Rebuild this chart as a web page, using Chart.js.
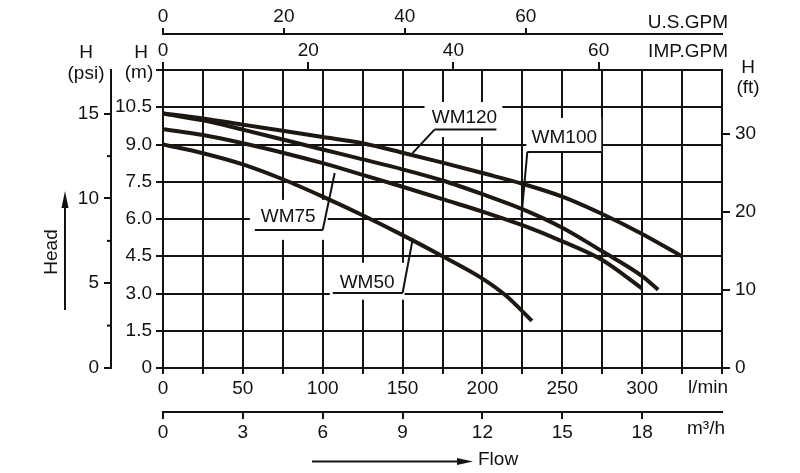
<!DOCTYPE html>
<html>
<head>
<meta charset="utf-8">
<script src="https://cdn.jsdelivr.net/npm/chart.js@4/dist/chart.umd.min.js"></script>
<style>
    html, body { margin: 0; padding: 0; background: #fff; }
    canvas { display: block; }
</style>
</head>
<body>
<canvas id="pump-chart" width="800" height="473"></canvas>
<script>
// Pump curves, flow in l/min, head in m
const wm120Flow = [0, 25, 50, 75, 100, 125, 150, 175, 200, 225, 250, 275, 300, 325];
const wm120Head = [10.25, 10.05, 9.8, 9.55, 9.3, 9.05, 8.67, 8.27, 7.85, 7.42, 6.9, 6.2, 5.4, 4.5];

const wm100Flow = [0, 25, 50, 75, 100, 125, 150, 175, 200, 225, 250, 275, 300, 310];
const wm100Head = [10.25, 9.97, 9.6, 9.2, 8.8, 8.4, 8.0, 7.55, 7.0, 6.4, 5.65, 4.7, 3.7, 3.15];

const wm75Flow = [0, 25, 50, 75, 100, 125, 150, 175, 200, 225, 250, 275, 300];
const wm75Head = [9.62, 9.38, 9.05, 8.67, 8.25, 7.78, 7.3, 6.8, 6.3, 5.75, 5.1, 4.35, 3.2];

const wm50Flow = [0, 25, 50, 75, 100, 125, 150, 175, 200, 215, 231];
const wm50Head = [9.0, 8.65, 8.2, 7.6, 6.9, 6.15, 5.35, 4.5, 3.6, 2.9, 1.9];

const modelNames = ['WM120', 'WM100', 'WM75', 'WM50'];

// axis ranges (main axes) and unit conversions
const flowMax = 350;       // l/min
const headMax = 12;        // m
const lpmPerImpGpm = 4.546;
const lpmPerUsGpm = 3.785;
const lpmPerM3h = 1000 / 60;
const psiPerM = 1.465;
const ftPerM = 3.18;

const INK = '#141210';
const CURVE = '#1e1813';
const FONT = '"Liberation Sans", Arial, sans-serif';

function toPoints(xs, ys) {
    return xs.map((x, i) => ({ x: x, y: ys[i] }));
}

function fixSize(size) {
    return scale => {
        if (scale.isHorizontal()) scale.height = size;
        else scale.width = size;
    };
}

function axis(opts) {
    return Object.assign({
        type: 'linear',
        grid: { drawOnChartArea: false, color: INK, lineWidth: 2, tickLength: 7 },
        border: { display: true, color: INK, width: 2 },
        ticks: { color: INK, font: { family: FONT, size: 19 }, autoSkip: false, maxRotation: 0, includeBounds: false }
    }, opts);
}

// label placement in data units (l/min, m)
const labelSpots = [
    { text: 'WM120', at: [188.75, 10.07], box: [163.75, 212.5, 10.71, 9.3], under: [170, 208.75, 9.6], leader: [156.25, 8.65] },
    { text: 'WM100', at: [251.25, 9.26], box: [227.5, 274.4, 10.07, 8.7], under: [228.1, 274.4, 8.7], leader: [224.4, 6.09] },
    { text: 'WM75', at: [78.4, 6.09], box: [54.4, 103.1, 6.77, 5.16], under: [57.5, 100, 5.56], leader: [107.5, 7.85] },
    { text: 'WM50', at: [127.8, 3.43], box: [104.4, 151.25, 4.24, 2.75], under: [106.25, 150, 3.02], leader: [156.25, 5.16] }
];

const extrasPlugin = {
    id: 'extras',
    beforeDatasetsDraw(chart) {
        // white boxes behind the model labels cut the grid
        const ctx = chart.ctx, xs = chart.scales.x, ys = chart.scales.y;
        ctx.save();
        ctx.fillStyle = '#fff';
        labelSpots.forEach(l => {
            const x0 = xs.getPixelForValue(l.box[0]), x1 = xs.getPixelForValue(l.box[1]);
            const y0 = ys.getPixelForValue(l.box[2]), y1 = ys.getPixelForValue(l.box[3]);
            ctx.fillRect(x0, y0, x1 - x0, y1 - y0);
        });
        ctx.restore();
    },
    afterDatasetsDraw(chart) {
        const ctx = chart.ctx, xs = chart.scales.x, ys = chart.scales.y;
        ctx.save();
        ctx.fillStyle = INK;
        ctx.strokeStyle = INK;
        ctx.lineWidth = 2;
        ctx.font = '19px ' + FONT;
        ctx.textAlign = 'center';
        ctx.textBaseline = 'middle';
        labelSpots.forEach((l, i) => {
            ctx.fillText(modelNames[i], xs.getPixelForValue(l.at[0]), ys.getPixelForValue(l.at[1]));
            const uy = ys.getPixelForValue(l.under[2]);
            const startX = l.text === 'WM75' || l.text === 'WM50' ? l.under[1] : l.under[0];
            ctx.beginPath();
            ctx.moveTo(xs.getPixelForValue(l.under[0]), uy);
            ctx.lineTo(xs.getPixelForValue(l.under[1]), uy);
            ctx.moveTo(xs.getPixelForValue(startX), uy);
            ctx.lineTo(xs.getPixelForValue(l.leader[0]), ys.getPixelForValue(l.leader[1]));
            ctx.stroke();
        });
        ctx.restore();
    },
    afterDraw(chart) {
        const ctx = chart.ctx, a = chart.chartArea;
        const psi = chart.scales.psi;
        ctx.save();
        ctx.fillStyle = INK;
        ctx.strokeStyle = INK;
        ctx.lineWidth = 2;
        ctx.font = '19px ' + FONT;
        ctx.textBaseline = 'middle';

        // axis names
        ctx.textAlign = 'center';
        ctx.fillText('H', 86, 53);
        ctx.fillText('(psi)', 86, 74);
        ctx.fillText('H', 141, 53);
        ctx.fillText('(m)', 139, 73);
        ctx.fillText('H', a.right + 26, 68);
        ctx.fillText('(ft)', a.right + 26, 88);

        ctx.textAlign = 'right';
        ctx.fillText('U.S.GPM', a.right + 6, 23);
        ctx.fillText('IMP.GPM', a.right + 6, 52);
        ctx.fillText('l/min', a.right + 6, 388);
        ctx.fillText('m\u00b3/h', a.right + 3, 429);

        // small psi ticks
        [2.5, 7.5, 12.5].forEach(v => {
            const y = psi.getPixelForValue(v);
            ctx.beginPath();
            ctx.moveTo(psi.right - 4, y);
            ctx.lineTo(psi.right, y);
            ctx.stroke();
        });

        // Flow arrow
        ctx.beginPath();
        ctx.moveTo(312, 461.5);
        ctx.lineTo(462, 461.5);
        ctx.stroke();
        ctx.beginPath();
        ctx.moveTo(473, 461.5);
        ctx.lineTo(457, 458);
        ctx.lineTo(457, 465);
        ctx.closePath();
        ctx.fill();
        ctx.textAlign = 'left';
        ctx.fillText('Flow', 478, 460);

        // Head arrow
        ctx.beginPath();
        ctx.moveTo(65, 310);
        ctx.lineTo(65, 200);
        ctx.stroke();
        ctx.beginPath();
        ctx.moveTo(65, 191);
        ctx.lineTo(61.5, 208);
        ctx.lineTo(68.5, 208);
        ctx.closePath();
        ctx.fill();
        ctx.translate(52, 252);
        ctx.rotate(-Math.PI / 2);
        ctx.textAlign = 'center';
        ctx.fillText('Head', 0, 0);
        ctx.restore();
    }
};

const curveStyle = {
    borderColor: CURVE,
    borderWidth: 4,
    pointRadius: 0,
    fill: false,
    tension: 0.4,
    cubicInterpolationMode: 'monotone',
    borderCapStyle: 'butt'
};

const ctx = document.getElementById('pump-chart').getContext('2d');
new Chart(ctx, {
    type: 'line',
    data: {
        datasets: [
            Object.assign({ label: modelNames[0], data: toPoints(wm120Flow, wm120Head) }, curveStyle),
            Object.assign({ label: modelNames[1], data: toPoints(wm100Flow, wm100Head) }, curveStyle),
            Object.assign({ label: modelNames[2], data: toPoints(wm75Flow, wm75Head) }, curveStyle),
            Object.assign({ label: modelNames[3], data: toPoints(wm50Flow, wm50Head) }, curveStyle)
        ]
    },
    options: {
        responsive: false,
        animation: false,
        events: [],
        layout: { padding: 0 },
        plugins: {
            legend: { display: false },
            tooltip: { enabled: false }
        },
        scales: {
            x: axis({
                position: 'bottom', weight: 0, min: 0, max: flowMax,
                grid: { color: INK, lineWidth: 2, tickLength: 6 },
                ticks: {
                    stepSize: 25, padding: 3, color: INK, font: { family: FONT, size: 19 },
                    autoSkip: false, maxRotation: 0, includeBounds: false,
                    callback: v => (v % 50 === 0 && v < flowMax) ? String(v) : ''
                },
                afterFit: fixSize(44)
            }),
            m3h: axis({
                position: 'bottom', weight: 1, min: 0, max: flowMax / lpmPerM3h,
                ticks: {
                    stepSize: 3, padding: 2, color: INK, font: { family: FONT, size: 19 },
                    autoSkip: false, maxRotation: 0, includeBounds: false,
                    callback: v => v <= 18 ? String(v) : null
                },
                afterFit: fixSize(61)
            }),
            imp: axis({
                position: 'top', weight: 0, min: 0, max: flowMax / lpmPerImpGpm,
                grid: { drawOnChartArea: false, color: INK, lineWidth: 2, tickLength: 8 },
                ticks: {
                    stepSize: 20, padding: 0, color: INK, font: { family: FONT, size: 19 },
                    autoSkip: false, maxRotation: 0, includeBounds: false,
                    callback: v => v <= 60 ? String(v) : null
                },
                afterFit: fixSize(36)
            }),
            us: axis({
                position: 'top', weight: 1, min: 0, max: flowMax / lpmPerUsGpm,
                grid: { drawOnChartArea: false, color: INK, lineWidth: 2, tickLength: 6 },
                ticks: {
                    stepSize: 20, padding: 0, color: INK, font: { family: FONT, size: 19 },
                    autoSkip: false, maxRotation: 0, includeBounds: false,
                    callback: v => v <= 60 ? String(v) : null
                },
                afterFit: fixSize(34)
            }),
            y: axis({
                position: 'left', weight: 0, min: 0, max: headMax,
                grid: { color: INK, lineWidth: 2, tickLength: 7 },
                ticks: {
                    stepSize: 1.5, padding: 4, color: INK, font: { family: FONT, size: 19 },
                    autoSkip: false, includeBounds: false,
                    callback: v => v === 0 ? '0' : (v >= headMax ? '' : v.toFixed(1))
                },
                afterFit: fixSize(52)
            }),
            psi: axis({
                position: 'left', weight: 1, min: 0, max: headMax * psiPerM,
                ticks: {
                    stepSize: 5, padding: 5, color: INK, font: { family: FONT, size: 19 },
                    autoSkip: false, includeBounds: false,
                    callback: v => v <= 15 ? String(v) : null
                },
                afterFit: fixSize(111)
            }),
            ft: axis({
                position: 'right', weight: 0, min: 0, max: headMax * ftPerM,
                grid: { drawOnChartArea: false, color: INK, lineWidth: 2, tickLength: 8 },
                ticks: {
                    stepSize: 10, padding: 5, color: INK, font: { family: FONT, size: 19 },
                    autoSkip: false, includeBounds: false,
                    callback: v => v <= 30 ? String(v) : null
                },
                afterFit: fixSize(78)
            })
        }
    },
    plugins: [extrasPlugin]
});
</script>
</body>
</html>
